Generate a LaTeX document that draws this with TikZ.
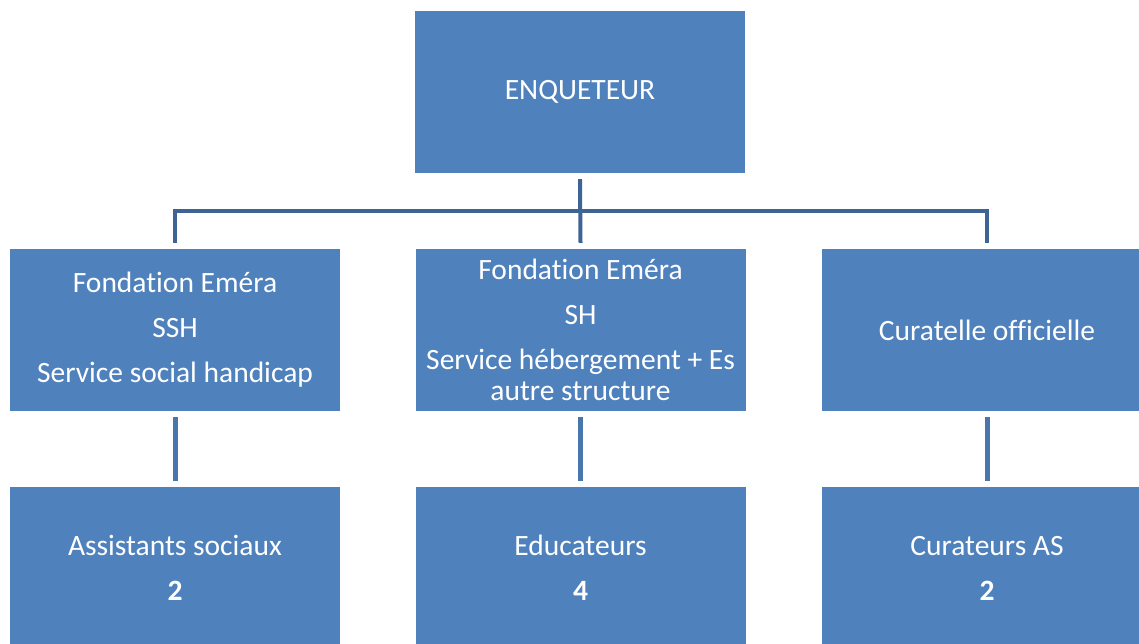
\documentclass[tikz,border=0pt]{standalone}
\usepackage{fontspec}
\setmainfont[Ligatures=NoCommon]{Carlito}
\definecolor{boxblue}{RGB}{79,129,189}
\definecolor{busblue}{RGB}{62,100,150}
\definecolor{linkblue}{RGB}{74,118,174}
\begin{document}
\begin{tikzpicture}[x=1pt,y=-1pt,
  orgbox/.style={fill=boxblue,draw=none,text=white,minimum width=330pt,minimum height=162pt,
    inner sep=0pt,align=center,font=\fontsize{29.5}{31}\selectfont},
  bus/.style={draw=busblue,line width=4pt},
  link/.style={draw=linkblue,line width=5pt}]
\clip (0,0) rectangle (1139,644);
\fill[white] (0,0) rectangle (1139,644);
\node[orgbox] (top) at (580,92) {ENQUETEUR};
\node[orgbox] (m1) at (175,330) {Fondation Eméra\\[14pt]SSH\\[14pt]Service social handicap};
\node[orgbox] (m2) at (580.5,330) {Fondation Eméra\\[14pt]SH\\[14pt]Service hébergement + Es\\autre structure};
\node[orgbox] (m3) at (987,330) {Curatelle officielle};
\node[orgbox] (b1) at (175,568) {Assistants sociaux\\[14pt]\textbf{2}};
\node[orgbox] (b2) at (580.5,568) {Educateurs\\[14pt]\textbf{4}};
\node[orgbox] (b3) at (987,568) {Curateurs AS\\[14pt]\textbf{2}};
\draw[bus] ([yshift=-6pt]top.south) -- ([yshift=6pt]m2.north);
\draw[bus] ([yshift=6pt]m1.north) |- ([yshift=-38pt]top.south) -| ([yshift=6pt]m3.north);
\draw[link] ([yshift=-6pt]m1.south) -- ([yshift=6pt]b1.north);
\draw[link] ([yshift=-6pt]m2.south) -- ([yshift=6pt]b2.north);
\draw[link] ([yshift=-6pt]m3.south) -- ([yshift=6pt]b3.north);
\end{tikzpicture}
\end{document}
